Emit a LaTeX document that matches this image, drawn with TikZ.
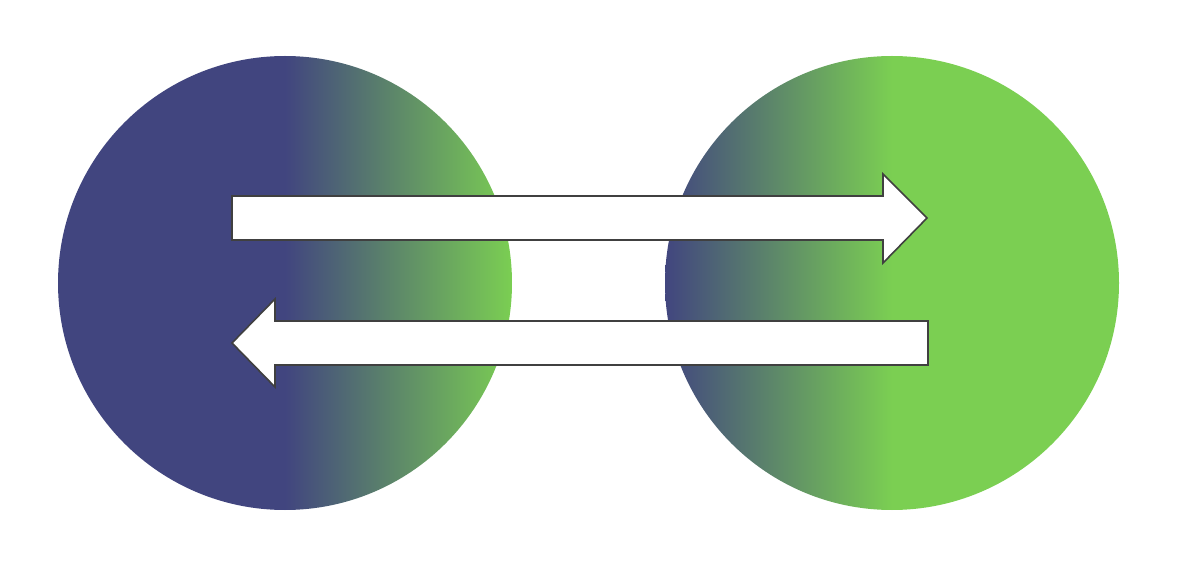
\documentclass[tikz,border=0pt]{standalone}
\definecolor{cblue}{HTML}{41457F}
\definecolor{cgreen}{HTML}{7BCF52}
\definecolor{cline}{HTML}{404040}
\begin{document}
\begin{tikzpicture}[x=1pt,y=-1pt,
  ball/.style={circle, minimum size=454pt, inner sep=0pt, draw=none},
  arrowshape/.style={fill=white, draw=cline, line width=1.6pt, line join=miter}]
\useasboundingbox (0,0) rectangle (1178,569);
\node[ball] (L) at (285,283) {};
\node[ball] (R) at (892,283) {};
\begin{scope}
  \clip (285,283) circle[radius=227];
  \fill[cblue] (55,52) rectangle (285,514);
  \shade[left color=cblue, right color=cgreen] (285,52) rectangle (513,514);
\end{scope}
\begin{scope}
  \clip (892,283) circle[radius=227];
  \shade[left color=cblue, right color=cgreen] (664,52) rectangle (892,514);
  \fill[cgreen] (892,52) rectangle (1122,514);
\end{scope}
% top arrow (to the right)
\draw[arrowshape] (232,196) -- (883,196) -- (883,174) -- (927,218) -- (883,263) -- (883,240) -- (232,240) -- cycle;
% bottom arrow (to the left)
\draw[arrowshape] (928,321) -- (275,321) -- (275,299) -- (232,343) -- (275,387) -- (275,365) -- (928,365) -- cycle;
\end{tikzpicture}
\end{document}
